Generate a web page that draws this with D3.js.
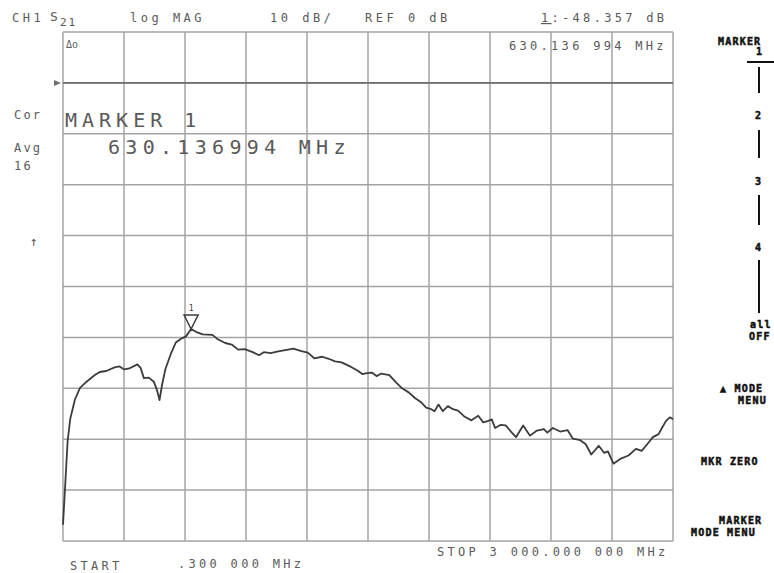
<!DOCTYPE html>
<html>
<head>
<meta charset="utf-8">
<script src="https://cdn.jsdelivr.net/npm/d3@7"></script>
<style>
  body { margin: 0; background: #fff; }
  text { font-family: "DejaVu Sans Mono", monospace; }
</style>
</head>
<body>
<script>
var width = 774,
	height = 573;

// sweep: 0.3 MHz .. 3000 MHz, 10 dB/div, REF 0 dB on the first division
var freqRange = [0.3, 3000],
	dbRange = [-90, 10],
	refLevel = 0;

// S21 trace (MHz, dB)
var freqs = [0.3, 15, 23, 36, 59, 84, 116, 157, 181, 213, 254, 278, 302, 326, 366, 382, 398, 422, 447, 462,
	475, 487, 504, 530, 555, 579, 605, 630.137, 654, 687, 735, 759, 798, 830, 862, 894, 933, 964, 988, 1021,
	1053, 1093, 1133, 1173, 1204, 1236, 1275, 1307, 1338, 1370, 1417, 1448, 1472, 1495, 1519, 1542, 1566, 1605, 1637, 1668,
	1700, 1731, 1763, 1786, 1811, 1827, 1847, 1868, 1893, 1918, 1943, 1976, 2009, 2042, 2067, 2092, 2109, 2125, 2151, 2177,
	2203, 2228, 2263, 2297, 2331, 2365, 2382, 2409, 2445, 2481, 2508, 2544, 2571, 2598, 2635, 2662, 2680, 2707, 2744, 2781,
	2818, 2846, 2873, 2901, 2929, 2947, 2966, 2984, 3000];
var s21 = [-86.8, -76.2, -70.4, -66.0, -62.2, -59.9, -58.7, -57.4, -56.8, -56.6, -55.9, -55.7, -56.3, -56.1, -55.3, -56.0, -58.0, -57.9, -58.7, -60.3,
	-62.3, -59.4, -56.2, -53.3, -51.0, -50.3, -49.8, -48.357, -48.9, -49.4, -49.5, -50.3, -51.1, -51.4, -52.4, -52.3, -52.9, -53.5, -52.9, -53.1,
	-52.8, -52.5, -52.2, -52.7, -53.0, -54.1, -53.8, -54.2, -54.7, -54.9, -55.8, -56.5, -57.2, -57.0, -56.9, -57.6, -57.1, -57.4, -58.8, -60.0,
	-60.8, -61.9, -62.8, -63.8, -64.1, -64.5, -63.2, -64.5, -63.5, -64.1, -64.4, -65.6, -66.3, -65.4, -66.7, -66.4, -66.1, -67.8, -67.2, -67.3,
	-68.5, -69.6, -67.3, -69.3, -68.3, -68.0, -68.7, -67.8, -68.5, -68.2, -69.9, -70.2, -71.0, -73.0, -71.3, -72.7, -72.4, -74.8, -73.8, -73.2,
	-71.9, -72.3, -71.0, -69.6, -69.0, -67.7, -66.4, -65.7, -66.1];

var markerFreq = 630.136994,
	markerDb = -48.357;

// annotation texts
var headerLabels = ["CH1", "log MAG", "10 dB/", "REF 0 dB"],
	leftLabels = ["Cor", "Avg", "16"],
	markerLines = ["MARKER 1", "630.136994 MHz"],
	sweepLabels = ["START", ".300 000 MHz", "STOP 3 000.000 000 MHz"];

var plot = {left: 63, right: 673, top: 32, bottom: 541},
	screenInk = "#5a5a5a",
	gridInk = "#a3a3a3";

var x = d3.scaleLinear().domain(freqRange).range([plot.left, plot.right]),
	y = d3.scaleLinear().domain(dbRange).range([plot.bottom, plot.top]);

var svg = d3.select("body")
		.append("svg")
		.attr("width", width)
		.attr("height", height);

svg.append("rect")
	.attr("width", width)
	.attr("height", height)
	.attr("fill", "#fff");

// graticule: 10 x 10 divisions
var xDivs = d3.range(0, 11).map(function (i) { return freqRange[0] + i * (freqRange[1] - freqRange[0]) / 10; }),
	yDivs = d3.range(dbRange[0], dbRange[1] + 1, 10);

var grid = svg.append("g").attr("stroke", gridInk).attr("stroke-width", 1.5);
grid.selectAll(".vx")
	.data(xDivs)
	.enter().append("line")
	.attr("x1", x).attr("x2", x)
	.attr("y1", plot.top).attr("y2", plot.bottom);
grid.selectAll(".hy")
	.data(yDivs)
	.enter().append("line")
	.attr("x1", plot.left).attr("x2", plot.right)
	.attr("y1", y).attr("y2", y);

// reference line + its pointer
svg.append("line")
	.attr("x1", plot.left).attr("x2", plot.right)
	.attr("y1", y(refLevel)).attr("y2", y(refLevel))
	.attr("stroke", "#707070")
	.attr("stroke-width", 1.6);
svg.append("path")
	.attr("d", "M" + (plot.left - 9) + "," + (y(refLevel) - 3) + "l7,3l-7,3z")
	.attr("fill", "#707070");

// the trace
var line = d3.line()
	.x(function (d) { return x(d[0]); })
	.y(function (d) { return y(d[1]); });

svg.append("path")
	.datum(d3.zip(freqs, s21))
	.attr("d", line)
	.attr("fill", "none")
	.attr("stroke", "#3c3c3c")
	.attr("stroke-width", 1.8)
	.attr("stroke-linejoin", "round");

// marker 1
var mx = x(markerFreq), my = y(markerDb);
svg.append("path")
	.attr("d", "M" + mx + "," + my + "l-7,-14h14z")
	.attr("fill", "none")
	.attr("stroke", "#3c3c3c")
	.attr("stroke-width", 1.5);
svg.append("text")
	.attr("x", mx).attr("y", my - 18)
	.attr("text-anchor", "middle")
	.attr("font-size", 8)
	.attr("fill", "#3c3c3c")
	.text("1");

// screen annotations
var small = function (sel, size, spacing) {
	return sel.attr("font-size", size).attr("letter-spacing", spacing).attr("fill", screenInk);
};

var headerX = [12, 130, 270, 365];
headerLabels.forEach(function (t, i) {
	small(svg.append("text"), 12, 3.5).attr("x", headerX[i]).attr("y", 22).text(t);
});
small(svg.append("text"), 13, 0).attr("x", 50).attr("y", 21).text("S");
small(svg.append("text"), 11, 2).attr("x", 60).attr("y", 26).text("21");

var readout = small(svg.append("text"), 12, 3.3).attr("x", 541).attr("y", 22);
readout.append("tspan").attr("text-decoration", "underline").text("1");
readout.append("tspan").text(":" + markerDb.toFixed(3) + " dB");

small(svg.append("text"), 12, 3.3).attr("x", 509).attr("y", 50).text("630.136 994 MHz");
small(svg.append("text"), 10, 0).attr("x", 66).attr("y", 48).text("Δo");

var leftY = [119, 152, 170];
leftLabels.forEach(function (t, i) {
	small(svg.append("text"), 12, 2.2).attr("x", 14).attr("y", leftY[i]).text(t);
});
small(svg.append("text"), 13, 0).attr("x", 30).attr("y", 246).text("↑");

small(svg.append("text"), 20, 5).attr("x", 65).attr("y", 127).text(markerLines[0]);
small(svg.append("text"), 20, 5.3).attr("x", 108).attr("y", 154).text(markerLines[1]);

var sweepX = [70, 178, 437], sweepY = [570, 568, 556];
sweepLabels.forEach(function (t, i) {
	small(svg.append("text"), 12, 3.3).attr("x", sweepX[i]).attr("y", sweepY[i]).text(t);
});

// softkey column
var keys = [
	{t: "MARKER", x: 718, y: 45}, {t: "1", x: 756, y: 55},
	{t: "2", x: 755, y: 119}, {t: "3", x: 755, y: 185}, {t: "4", x: 755, y: 251},
	{t: "all", x: 750, y: 328}, {t: "OFF", x: 749, y: 340},
	{t: "▲ MODE", x: 720, y: 392}, {t: "MENU", x: 738, y: 404},
	{t: "MKR ZERO", x: 701, y: 465},
	{t: "MARKER", x: 719, y: 524}, {t: "MODE MENU", x: 691, y: 536}
];
svg.selectAll(".key")
	.data(keys)
	.enter().append("text")
	.attr("x", function (d) { return d.x; })
	.attr("y", function (d) { return d.y; })
	.attr("font-family", "'DejaVu Sans', sans-serif")
	.attr("font-size", 10)
	.attr("font-weight", "bold")
	.attr("letter-spacing", 1.2)
	.attr("fill", "#111")
	.attr("stroke", "#111")
	.attr("stroke-width", 0.5)
	.text(function (d) { return d.t; });

var bars = [[67, 93], [130, 158], [195, 225], [260, 313]];
svg.selectAll(".bar")
	.data(bars)
	.enter().append("line")
	.attr("x1", 759).attr("x2", 759)
	.attr("y1", function (d) { return d[0]; })
	.attr("y2", function (d) { return d[1]; })
	.attr("stroke", "#111")
	.attr("stroke-width", 2);
svg.append("line")
	.attr("x1", 747).attr("x2", 774)
	.attr("y1", 62).attr("y2", 62)
	.attr("stroke", "#111")
	.attr("stroke-width", 2);
</script>
</body>
</html>
